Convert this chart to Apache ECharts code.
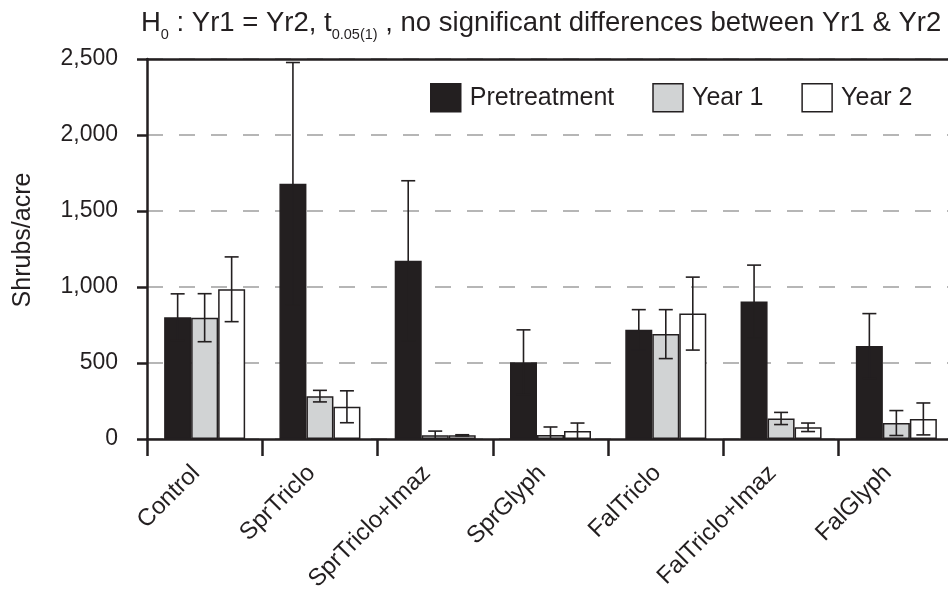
<!DOCTYPE html>
<html>
<head>
<meta charset="utf-8">
<script src="https://cdn.jsdelivr.net/npm/echarts@6/dist/echarts.min.js"></script>
<style>
html,body{margin:0;padding:0;background:#fff;overflow:hidden;}
#chart{width:948px;height:589px;}
</style>
</head>
<body>
<div id="chart"></div>
<script>
// ---- data ----
const categories = ['Control', 'SprTriclo', 'SprTriclo+Imaz', 'SprGlyph', 'FalTriclo', 'FalTriclo+Imaz', 'FalGlyph'];
const seriesNames = ['Pretreatment', 'Year 1', 'Year 2'];
const pretreatment = [801, 1679, 1172, 505, 718, 904, 612];
const pretreatmentErr = [154, 798, 527, 213, 133, 240, 213];
const year1 = [798, 282, 24, 26, 690, 135, 105];
const year1Err = [158, 38, 28, 53, 161, 40, 82];
const year2 = [985, 212, 24, 53, 825, 77, 132];
const year2Err = [213, 105, 4, 52, 240, 28, 105];
const yTicks = [0, 500, 1000, 1500, 2000, 2500];

// ---- styles ----
const INK = '#231f20';
const FONT = "'Liberation Sans', Arial, Helvetica, sans-serif";
const BAR_W = 27;
const fills = [INK, '#d1d3d4', '#ffffff'];

const chart = echarts.init(document.getElementById('chart'), null, {renderer: 'canvas'});

function fmt(v) {
  return String(v).replace(/\B(?=(\d{3})+(?!\d))/g, ',');
}

function errSeries(k, vals, errs) {
  return {
    type: 'custom',
    name: seriesNames[k] + ' error',
    xAxisIndex: 0,
    yAxisIndex: 0,
    z: 10,
    silent: true,
    encode: {x: 0, y: 1},
    data: vals.map((v, i) => [i, v, errs[i]]),
    renderItem: function (params, api) {
      const i = api.value(0), v = api.value(1), e = api.value(2);
      const off = (k - 1) * BAR_W;
      const pTop = api.coord([i, v + e]);
      const pBot = api.coord([i, Math.max(0, v - e)]);
      const x = pTop[0] + off;
      const cw = 7;
      const st = {stroke: INK, lineWidth: 1.6};
      return {
        type: 'group',
        children: [
          {type: 'line', shape: {x1: x, y1: pTop[1], x2: x, y2: pBot[1]}, style: st},
          {type: 'line', shape: {x1: x - cw, y1: pTop[1], x2: x + cw, y2: pTop[1]}, style: st},
          {type: 'line', shape: {x1: x - cw, y1: pBot[1], x2: x + cw, y2: pBot[1]}, style: st}
        ]
      };
    }
  };
}

const barData = [pretreatment, year1, year2];
const barSeries = barData.map((d, k) => ({
  type: 'bar',
  name: seriesNames[k],
  data: d,
  barWidth: BAR_W,
  barGap: '0%',
  itemStyle: {color: fills[k], borderColor: INK, borderWidth: 1.5},
  emphasis: {disabled: true}
}));

const option = {
  animation: false,
  backgroundColor: '#ffffff',
  textStyle: {fontFamily: FONT, color: INK},
  title: {
    left: 141,
    top: 5,
    padding: 0,
    text: '{n|H}{s|0}{n| : Yr1 = Yr2, t}{s|0.05(1)}{n| , no significant differences between Yr1 & Yr2}',
    textStyle: {
      fontWeight: 'normal',
      rich: {
        n: {fontFamily: FONT, fontSize: 27.5, fontWeight: 'normal', color: INK, lineHeight: 37, verticalAlign: 'middle'},
        s: {fontFamily: FONT, fontSize: 14.5, fontWeight: 'normal', color: INK, lineHeight: 14.5, verticalAlign: 'bottom'}
      }
    }
  },
  legend: {
    left: 430,
    top: 83,
    padding: 0,
    itemWidth: 30,
    itemHeight: 28,
    itemGap: 38,
    icon: 'rect',
    data: seriesNames,
    textStyle: {fontFamily: FONT, fontSize: 25, color: INK, padding: [0, 0, 0, 4]},
    itemStyle: {borderColor: INK, borderWidth: 1.5}
  },
  grid: {left: 147, right: -6, top: 59, bottom: 150, containLabel: false, outerBoundsMode: 'none'},
  xAxis: [
    {
      type: 'category',
      data: categories,
      boundaryGap: true,
      axisLine: {show: true, lineStyle: {color: INK, width: 2.5}},
      axisTick: {show: true, length: 17, lineStyle: {color: INK, width: 2.5}},
      axisLabel: {rotate: 45, margin: 22, fontSize: 24, fontFamily: FONT, color: INK, interval: 0, padding: [0, 12, 0, 0]},
      splitLine: {show: false}
    },
    {
      type: 'category',
      data: categories,
      position: 'top',
      axisLine: {show: true, lineStyle: {color: INK, width: 2.5}},
      axisTick: {show: false},
      axisLabel: {show: false},
      splitLine: {show: false}
    }
  ],
  yAxis: {
    type: 'value',
    min: yTicks[0],
    max: yTicks[yTicks.length - 1],
    interval: yTicks[1] - yTicks[0],
    name: 'Shrubs/acre',
    nameLocation: 'middle',
    nameGap: 111,
    nameRotate: 90,
    nameTextStyle: {fontFamily: FONT, fontSize: 25, color: INK, padding: [0, 0, 0, 18]},
    axisLine: {show: true, lineStyle: {color: INK, width: 2.5}},
    axisTick: {show: true, length: 10, lineStyle: {color: INK, width: 2.5}},
    axisLabel: {margin: 29, fontSize: 23, fontFamily: FONT, color: INK, formatter: fmt},
    splitLine: {show: true, lineStyle: {color: '#9e9e9e', width: 1.5, type: [16, 16]}}
  },
  series: barSeries.concat([
    errSeries(0, pretreatment, pretreatmentErr),
    errSeries(1, year1, year1Err),
    errSeries(2, year2, year2Err)
  ])
};
chart.setOption(option);
</script>
</body>
</html>
